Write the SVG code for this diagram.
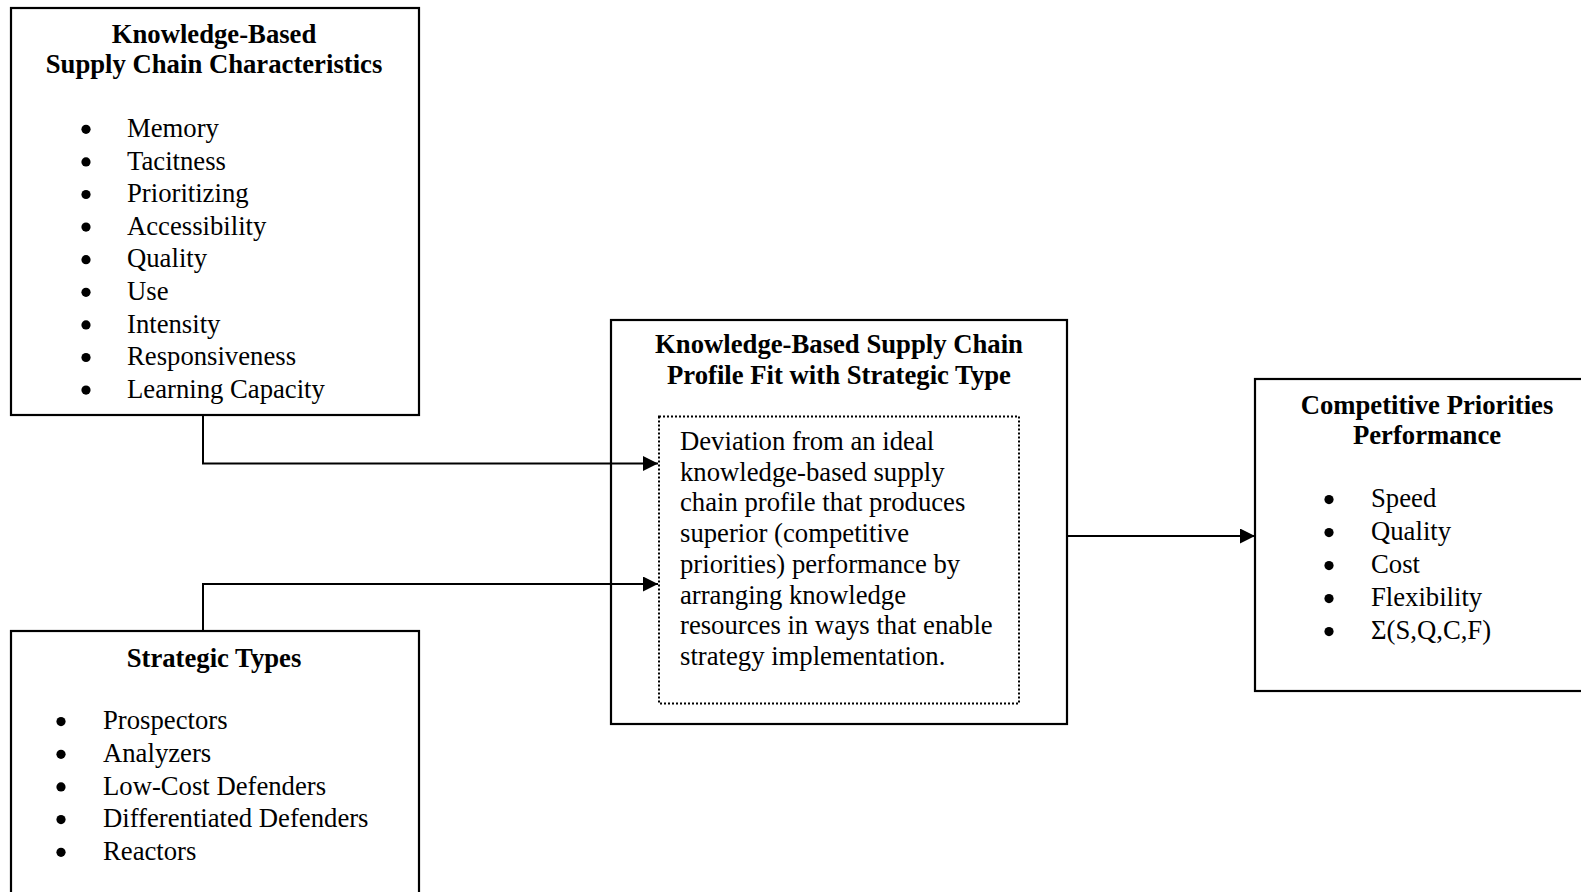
<svg xmlns="http://www.w3.org/2000/svg" width="1581" height="892" viewBox="0 0 1581 892">
<defs>
<style>
.box{fill:#fff;stroke:#000;stroke-width:2.2}
.dot{fill:none;stroke:#000;stroke-width:2;stroke-dasharray:2 2}
.t{font-family:"Liberation Serif","Times New Roman",serif;font-size:26.7px;fill:#000}
.b{font-weight:bold;text-anchor:middle}
.c{fill:none;stroke:#000;stroke-width:2}
</style>
<circle id="bl" r="4.6" fill="#000"/>
<marker id="ah" markerWidth="16" markerHeight="16" refX="15" refY="7.5" orient="auto" markerUnits="userSpaceOnUse">
<path d="M0,0 L15,7.5 L0,15 Z" fill="#000"/>
</marker>
</defs>
<rect width="1581" height="892" fill="#fff"/>
<g id="characteristics">
<rect class="box" x="11" y="8" width="408" height="407"/>
<text class="t b" x="214" y="43">Knowledge-Based</text>
<text class="t b" x="214" y="73">Supply Chain Characteristics</text>
<use href="#bl" x="86" y="129.3"/><use href="#bl" x="86" y="161.9"/><use href="#bl" x="86" y="194.5"/>
<use href="#bl" x="86" y="227.1"/><use href="#bl" x="86" y="259.7"/><use href="#bl" x="86" y="292.3"/>
<use href="#bl" x="86" y="324.9"/><use href="#bl" x="86" y="357.5"/><use href="#bl" x="86" y="390.1"/>
<g class="t">
<text x="127" y="137">Memory</text>
<text x="127" y="169.6">Tacitness</text>
<text x="127" y="202.2">Prioritizing</text>
<text x="127" y="234.8">Accessibility</text>
<text x="127" y="267.4">Quality</text>
<text x="127" y="300">Use</text>
<text x="127" y="332.6">Intensity</text>
<text x="127" y="365.2">Responsiveness</text>
<text x="127" y="397.8">Learning Capacity</text>
</g>
</g>
<g id="strategic-types">
<rect class="box" x="11" y="631" width="408" height="280"/>
<text class="t b" x="214" y="667">Strategic Types</text>
<use href="#bl" x="61" y="721.6"/><use href="#bl" x="61" y="754.3"/><use href="#bl" x="61" y="786.9"/>
<use href="#bl" x="61" y="819.6"/><use href="#bl" x="61" y="852.3"/>
<g class="t">
<text x="103" y="729.3">Prospectors</text>
<text x="103" y="762">Analyzers</text>
<text x="103" y="794.6">Low-Cost Defenders</text>
<text x="103" y="827.3">Differentiated Defenders</text>
<text x="103" y="860">Reactors</text>
</g>
</g>
<g id="profile-fit">
<rect class="box" x="611" y="320" width="456" height="404"/>
<text class="t b" x="839" y="353">Knowledge-Based Supply Chain</text>
<text class="t b" x="839" y="384">Profile Fit with Strategic Type</text>
<rect class="dot" x="659" y="416.5" width="360" height="287"/>
<g class="t">
<text x="680" y="450">Deviation from an ideal</text>
<text x="680" y="480.7">knowledge-based supply</text>
<text x="680" y="511.4">chain profile that produces</text>
<text x="680" y="542.1">superior (competitive</text>
<text x="680" y="572.9">priorities) performance by</text>
<text x="680" y="603.6">arranging knowledge</text>
<text x="680" y="634.3">resources in ways that enable</text>
<text x="680" y="665">strategy implementation.</text>
</g>
</g>
<g id="performance">
<rect class="box" x="1255" y="379" width="340" height="312"/>
<text class="t b" x="1427" y="414">Competitive Priorities</text>
<text class="t b" x="1427" y="444">Performance</text>
<use href="#bl" x="1329" y="499.6"/><use href="#bl" x="1329" y="532.6"/><use href="#bl" x="1329" y="565.6"/>
<use href="#bl" x="1329" y="598.6"/><use href="#bl" x="1329" y="631.6"/>
<g class="t">
<text x="1371" y="507.3">Speed</text>
<text x="1371" y="540.3">Quality</text>
<text x="1371" y="573.3">Cost</text>
<text x="1371" y="606.3">Flexibility</text>
<text x="1371" y="639.3">Σ(S,Q,C,F)</text>
</g>
</g>
<g id="connectors">
<path class="c" d="M203,415 V463.5 H658" marker-end="url(#ah)"/>
<path class="c" d="M203,631 V584 H658" marker-end="url(#ah)"/>
<path class="c" d="M1067,536 H1255" marker-end="url(#ah)"/>
</g>
</svg>
